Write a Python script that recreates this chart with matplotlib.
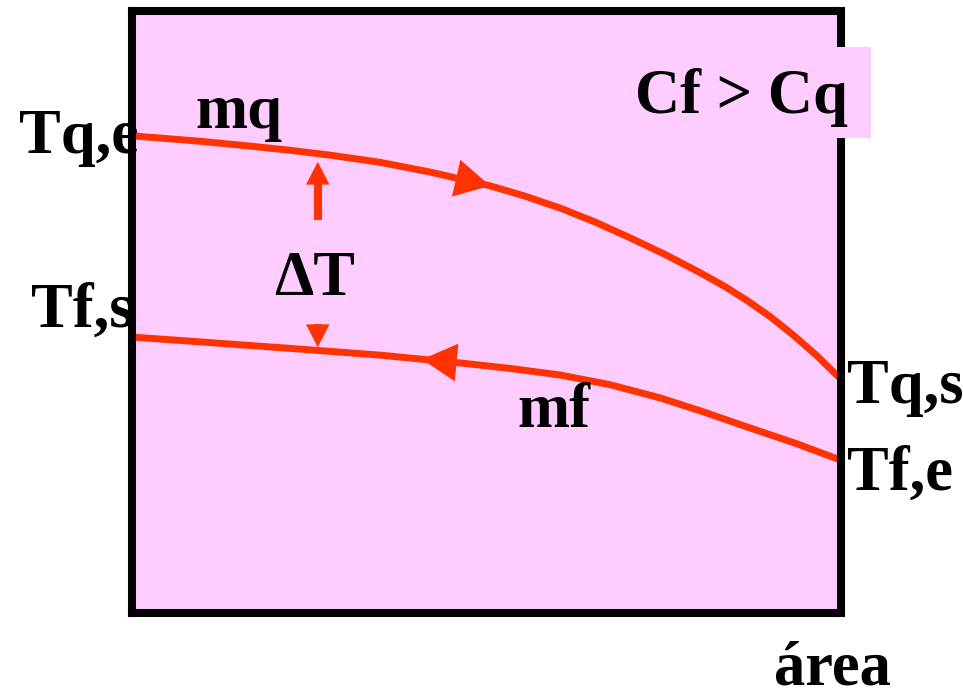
import numpy as np
from matplotlib import pyplot as plt
from matplotlib.patches import Rectangle

# curve readings (x = area in %, y = temperature in % of box height)
hot_x = [0, 9.6, 16.6, 22.3, 27.9, 35.0, 42.0, 50.5, 55.4, 60.4, 65.3, 70.2,
         75.2, 80.1, 83.6, 86.7, 90.0, 93.2, 96.6, 99.9]
hot_y = [79.2, 78.3, 77.5, 76.8, 76.0, 74.8, 73.2, 70.9, 69.2, 67.2, 64.9, 62.3,
         59.5, 56.5, 54.2, 51.9, 49.2, 46.2, 42.7, 38.9]
cold_x = [0, 9.6, 23.7, 35.0, 46.3, 53.3, 60.4, 67.4, 74.5, 80.8, 86.7, 93.5, 99.9]
cold_y = [45.8, 45.0, 43.8, 42.8, 41.5, 40.6, 39.5, 37.9, 35.7, 33.3, 30.9, 28.2, 25.4]

labels = ['Tq,e', 'mq', 'Cf > Cq', 'ΔT', 'Tf,s', 'mf', 'Tq,s', 'Tf,e', 'área']
label_x = [-15.9, 9.0, 71.0, 20.0, -14.2, 54.4, 100.9, 100.9, 90.5]
label_y = [76.3, 80.5, 83.0, 52.8, 47.5, 30.9, 34.9, 20.4, -11.9]

red = '#FF3300'
pink = '#FFCCFF'

plt.rcParams['font.family'] = ['Liberation Serif', 'DejaVu Serif']

fig = plt.figure(figsize=(9.63, 6.95), dpi=100)
ax = fig.add_axes([132 / 963, 82 / 695, 709 / 963, 602.5 / 695])
ax.set_facecolor(pink)
ax.set_xlim(0, 100)
ax.set_ylim(0, 100)
ax.set_xticks([])
ax.set_yticks([])
for s in ax.spines.values():
    s.set_linewidth(5.8)
    s.set_zorder(4)

ax.plot(hot_x, hot_y, color=red, lw=5, solid_capstyle='butt', zorder=3)
ax.plot(cold_x, cold_y, color=red, lw=5, solid_capstyle='butt', zorder=3)

# flow direction arrows
head = dict(arrowstyle='-|>,head_length=1.25,head_width=0.68', color=red,
            lw=0, mutation_scale=20, shrinkA=0, shrinkB=0)
ax.annotate('', xy=(50.5, 70.9), xytext=(46.0, 72.1), arrowprops=head, zorder=3)
ax.annotate('', xy=(40.9, 42.1), xytext=(45.5, 41.6), arrowprops=head, zorder=3)

# delta T arrows
small = dict(arrowstyle='-|>,head_length=1.65,head_width=0.85', color=red,
             lw=0, mutation_scale=10, shrinkA=0, shrinkB=0)
ax.plot([26.2, 26.2], [65.2, 71.5], color=red, lw=5.8, solid_capstyle='butt', zorder=3)
ax.annotate('', xy=(26.2, 74.9), xytext=(26.2, 71.0), arrowprops=small, zorder=3)
ax.plot([26.2, 26.2], [47.5, 48.0], color=red, lw=5.8, solid_capstyle='butt', zorder=3)
ax.annotate('', xy=(26.2, 44.1), xytext=(26.2, 47.6), arrowprops=small, zorder=3)

ax.add_patch(Rectangle((68.8, 78.8), 35.4, 15.1, facecolor=pink, edgecolor='none',
                       clip_on=False, zorder=5))

for t, x, y in zip(labels, label_x, label_y):
    ax.text(x, y, t, fontsize=45, fontweight='bold', ha='left', va='baseline',
            clip_on=False, zorder=2 if t in ('Tq,e', 'Tf,s') else 6)

fig.savefig('out.png', dpi=100)
